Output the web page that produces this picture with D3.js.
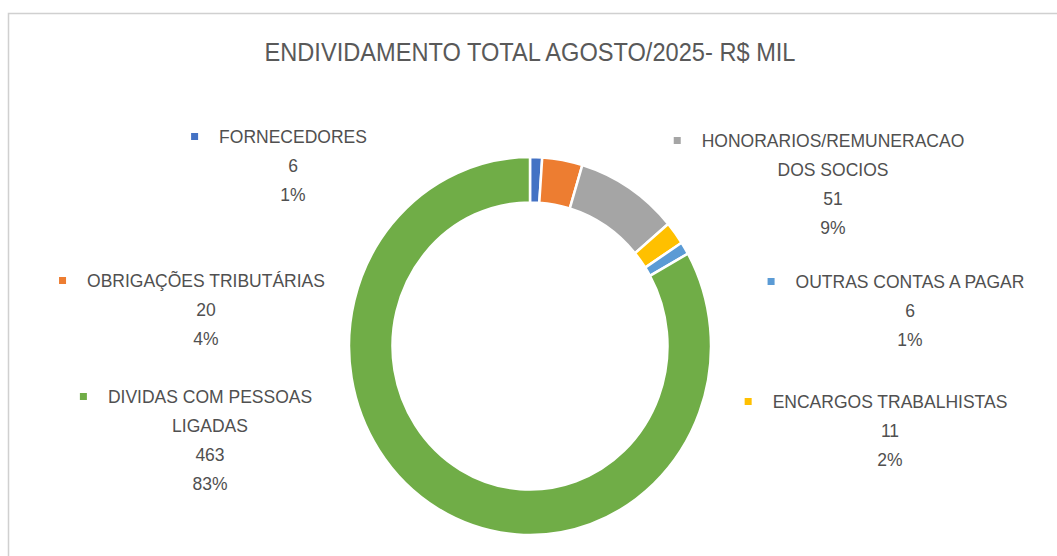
<!DOCTYPE html>
<html lang="pt">
<head>
<meta charset="UTF-8">
<title>Endividamento total</title>
<script src="https://d3js.org/d3.v7.min.js"></script>
<style>
  html, body { margin: 0; padding: 0; background: #fff; }
  svg { display: block; }
</style>
</head>
<body>
<div id="chart"></div>
<script>
// data
const title = "ENDIVIDAMENTO TOTAL AGOSTO/2025- R$ MIL";
const categories = [
    ["FORNECEDORES"],
    ["OBRIGAÇÕES TRIBUTÁRIAS"],
    ["HONORARIOS/REMUNERACAO", "DOS SOCIOS"],
    ["ENCARGOS TRABALHISTAS"],
    ["OUTRAS CONTAS A PAGAR"],
    ["DIVIDAS COM PESSOAS", "LIGADAS"]
];
const values = [6, 20, 51, 11, 6, 463];
const colors = ["#4472C4", "#ED7D31", "#A5A5A5", "#FFC000", "#5B9BD5", "#70AD47"];

// where each label block sits (centre x, first baseline)
const labelPos = [
    {x: 293, y: 143},
    {x: 206, y: 287},
    {x: 833, y: 147},
    {x: 890, y: 408},
    {x: 910, y: 288},
    {x: 210, y: 403}
];

const width = 1057, height = 556;
const cx = 530, cy = 346;
const rOuter = 181, rInner = 137.5;
const lineH = 29;

const svg = d3.select("#chart").append("svg")
    .attr("width", width)
    .attr("height", height)
    .style("font-family", "'Liberation Sans', Arial, sans-serif");

// chart area border (cropped at the right and bottom)
svg.append("rect")
    .attr("x", 8.5).attr("y", 13.5)
    .attr("width", 1100).attr("height", 600)
    .attr("fill", "#fff")
    .attr("stroke", "#d0d0d0")
    .attr("stroke-width", 1.5);

svg.append("text")
    .attr("x", cx).attr("y", 61)
    .attr("text-anchor", "middle")
    .attr("fill", "#595959")
    .attr("font-size", 25)
    .attr("textLength", 531)
    .attr("lengthAdjust", "spacingAndGlyphs")
    .text(title);

const total = d3.sum(values);
const pie = d3.pie().sort(null).value(d => d)(values);
const arc = d3.arc().innerRadius(rInner).outerRadius(rOuter);

svg.append("g")
    .attr("transform", `translate(${cx},${cy}) scale(1,1.044)`)
    .selectAll("path")
    .data(pie)
    .join("path")
    .attr("d", arc)
    .attr("fill", (d, i) => colors[i])
    .attr("stroke", "#fff")
    .attr("stroke-width", 2.5);

// data labels: category, value, percent
const lab = svg.append("g")
    .attr("fill", "#505050")
    .attr("font-size", 17.5)
    .selectAll("g")
    .data(categories)
    .join("g");

lab.each(function(lines, i) {
    const g = d3.select(this);
    const p = labelPos[i];
    const all = lines.concat([String(values[i]), Math.round(values[i] / total * 100) + "%"]);
    let first;
    all.forEach((t, k) => {
        const el = g.append("text")
            .attr("x", p.x)
            .attr("y", p.y + k * lineH)
            .attr("text-anchor", "middle")
            .text(t);
        if (k === 0) first = el;
    });
    const w = first.node().getComputedTextLength();
    g.append("rect")
        .attr("x", p.x - w / 2 - 28)
        .attr("y", p.y - 10)
        .attr("width", 7)
        .attr("height", 7)
        .attr("fill", colors[i]);
});
</script>
</body>
</html>
